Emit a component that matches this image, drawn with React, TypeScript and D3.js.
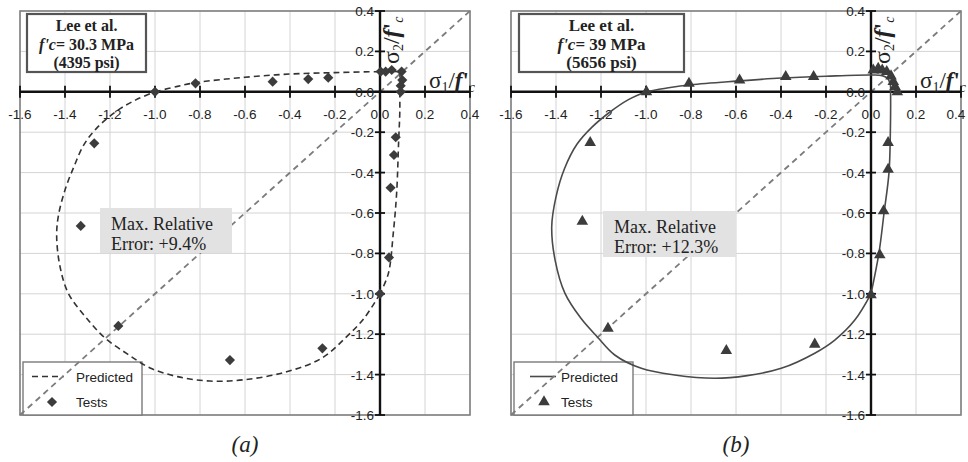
import React from 'react';
import * as d3 from 'd3';

// ---- shared axis values ----
const X_TICKS = [-1.6, -1.4, -1.2, -1.0, -0.8, -0.6, -0.4, -0.2, 0.0, 0.2, 0.4];
const Y_TICKS = [0.4, 0.2, 0.0, -0.2, -0.4, -0.6, -0.8, -1.0, -1.2, -1.4, -1.6];
const DOMAIN: [number, number] = [-1.6, 0.4];
const EQUAL_STRESS_LINE: [number, number][] = [[-1.6, -1.6], [0.4, 0.4]];

// ---- panel (a): f'c = 30.3 MPa ----
const testsA_s1 = [-1.0, -0.82, -0.477, -0.319, -0.23, 0.003, 0.025, 0.052, 0.096, 0.099, 0.092, 0.092,
  -1.27, 0.07, 0.062, 0.047, -1.33, 0.04, 0.0, -1.163, -0.667, -0.256];
const testsA_s2 = [0.0, 0.042, 0.05, 0.063, 0.07, 0.1, 0.1, 0.108, 0.1, 0.058, 0.03, 0.0,
  -0.255, -0.225, -0.313, -0.475, -0.664, -0.82, -1.0, -1.159, -1.328, -1.27];
const predA_tension: [number, number][] = [
  [-1.0, 0.0], [-0.9, 0.027], [-0.82, 0.045], [-0.6, 0.072], [-0.4, 0.088], [-0.2, 0.095], [0.0, 0.1], [0.09, 0.1],
];
const predA_right: [number, number][] = [
  [0.09, 0.1], [0.088, 0.05], [0.088, -0.1], [0.083, -0.24], [0.074, -0.5], [0.059, -0.7], [0.037, -0.9], [0.0, -1.0],
];
const predA_compression: [number, number][] = [
  [0.0, -1.0], [-0.07, -1.12], [-0.148, -1.212], [-0.258, -1.318], [-0.415, -1.386], [-0.6, -1.425], [-0.756, -1.432],
  [-0.9, -1.41], [-1.022, -1.367], [-1.12, -1.3], [-1.222, -1.219], [-1.304, -1.121], [-1.385, -0.998],
  [-1.422, -0.866], [-1.437, -0.717], [-1.43, -0.618], [-1.4, -0.486], [-1.36, -0.37], [-1.315, -0.26],
  [-1.255, -0.175], [-1.17, -0.095], [-1.085, -0.04], [-1.0, 0.0],
];

// ---- panel (b): f'c = 39 MPa ----
const testsB_s1 = [-0.998, -0.809, -0.584, -0.379, -0.255, 0.01, 0.032, 0.05, 0.07, 0.089, 0.099, 0.107, 0.117,
  -1.248, 0.076, 0.076, 0.056, 0.039, -1.283, 0.0, -1.169, -0.643, -0.25];
const testsB_s2 = [0.0, 0.042, 0.058, 0.075, 0.075, 0.107, 0.116, 0.107, 0.1, 0.078, 0.05, 0.025, 0.0,
  -0.252, -0.252, -0.384, -0.59, -0.808, -0.642, -1.006, -1.171, -1.282, -1.25];
const predB_tension: [number, number][] = [
  [-1.0, 0.0], [-0.9, 0.02], [-0.8, 0.035], [-0.6, 0.053], [-0.4, 0.068], [-0.2, 0.077], [0.0, 0.083],
  [0.05, 0.08], [0.075, 0.065], [0.086, 0.035], [0.087, 0.0],
  [0.086, -0.2], [0.08, -0.4], [0.058, -0.6], [0.035, -0.8], [0.0, -1.0],
];
const predB_compression: [number, number][] = [
  [0.0, -1.0], [-0.072, -1.13], [-0.161, -1.229], [-0.25, -1.294], [-0.399, -1.369], [-0.55, -1.405],
  [-0.695, -1.418], [-0.873, -1.402], [-1.021, -1.369], [-1.139, -1.303], [-1.215, -1.215], [-1.29, -1.12],
  [-1.36, -0.998], [-1.404, -0.833], [-1.419, -0.668], [-1.4, -0.52], [-1.362, -0.38], [-1.307, -0.26],
  [-1.24, -0.175], [-1.16, -0.1], [-1.08, -0.04], [-1.0, 0.0],
];

const SERIF = '"Liberation Serif", "Times New Roman", serif';
const SANS = '"Liberation Sans", Arial, sans-serif';

type PanelProps = {
  left: number;
  right: number;
  top: number;
  bottom: number;
  s1: number[];
  s2: number[];
  curves: [number, number][][];
  dashed: boolean;
  marker: 'diamond' | 'triangle';
  fc: string;
  psi: string;
  error: string;
  caption: string;
  infoBox: { dx: number; w: number; fs: number };
  errBox: { dx: number; y: number; w: number; h: number };
  legendBox: { dx: number; w: number; lineX0: number; lineX1: number; markX: number; textX: number };
};

const fmt = (t: number) => d3.format('.1f')(t).replace('−', '-');

function StressTitle({ n }: { n: string }) {
  return (
    <>
      σ<tspan dy={4} fontSize={14}>{n}</tspan>
      <tspan dy={-4}>/</tspan>
      <tspan fontStyle="italic" fontWeight="bold">f</tspan>
      <tspan fontWeight="bold">'</tspan>
      <tspan dy={4} fontSize={14} fontStyle="italic">c</tspan>
    </>
  );
}

function Panel(p: PanelProps) {
  const x = d3.scaleLinear().domain(DOMAIN).range([p.left, p.right]);
  const y = d3.scaleLinear().domain([DOMAIN[1], DOMAIN[0]]).range([p.top, p.bottom]);
  const line = d3.line<[number, number]>().x((d) => x(d[0])).y((d) => y(d[1]));
  const smooth = d3.line<[number, number]>().x((d) => x(d[0])).y((d) => y(d[1])).curve(d3.curveCatmullRom.alpha(0.5));
  const sym = p.marker === 'diamond'
    ? d3.symbol().type(d3.symbolDiamond2).size(66)()
    : d3.symbol().type(d3.symbolTriangle).size(58)();
  const curveColor = p.dashed ? '#333' : '#4a4a4a';
  const x0 = x(0);
  const y0 = y(0);
  const ib = p.infoBox;
  const ibx = p.left + ib.dx;
  const eb = p.errBox;
  const lb = p.legendBox;
  const lx = p.left + lb.dx;
  const legendTop = 362;

  return (
    <g>
      {/* grid */}
      {X_TICKS.map((t) => (
        <line key={'gx' + t} x1={x(t)} x2={x(t)} y1={p.top} y2={p.bottom} stroke="#d4d4d4" strokeWidth={1} />
      ))}
      {Y_TICKS.map((t) => (
        <line key={'gy' + t} x1={p.left} x2={p.right} y1={y(t)} y2={y(t)} stroke="#d4d4d4" strokeWidth={1} />
      ))}
      {/* plot frame */}
      <rect x={p.left} y={p.top} width={p.right - p.left} height={p.bottom - p.top} fill="none" stroke="#808080" strokeWidth={1.6} />

      {/* legend */}
      <rect x={lx} y={legendTop} width={lb.w} height={p.bottom - legendTop} fill="#fff" stroke="#7a7a7a" strokeWidth={1.4} />
      <line x1={p.left + lb.lineX0} x2={p.left + lb.lineX1} y1={376.5} y2={376.5} stroke={curveColor} strokeWidth={1.6}
        strokeDasharray={p.dashed ? '6,4' : undefined} />
      <text x={p.left + lb.textX} y={381.5} fontFamily={SANS} fontSize={13.5} fill="#222">Predicted</text>
      <path d={sym!} transform={`translate(${p.left + lb.markX},${402})`} fill="#3c3c3c" />
      <text x={p.left + lb.textX} y={407} fontFamily={SANS} fontSize={13.5} fill="#222">Tests</text>

      {/* equal biaxial stress line */}
      <path d={line(EQUAL_STRESS_LINE)!} fill="none" stroke="#7c7c7c" strokeWidth={1.8} strokeDasharray="6,4.5" />

      {/* axes */}
      <line x1={p.left} x2={p.right} y1={y0} y2={y0} stroke="#111" strokeWidth={2.4} />
      <line x1={x0} x2={x0} y1={p.top} y2={p.bottom} stroke="#111" strokeWidth={2.4} />
      {X_TICKS.map((t) => (
        <g key={'tx' + t}>
          <line x1={x(t)} x2={x(t)} y1={y0 - 6} y2={y0 + 6} stroke="#111" strokeWidth={1.8} />
          <text x={Math.min(x(t), 956)} y={119} textAnchor="middle" fontFamily={SANS} fontSize={13.5} fill="#222">
            {fmt(t)}
          </text>
        </g>
      ))}
      {Y_TICKS.map((t) => (
        <g key={'ty' + t}>
          <line x1={x0 - 5} x2={x0 + 5} y1={y(t)} y2={y(t)} stroke="#111" strokeWidth={1.8} />
          <text x={x0 - 6} y={y(t) + 5} textAnchor="end" fontFamily={SANS} fontSize={13.5} fill="#222">
            {fmt(t)}
          </text>
        </g>
      ))}

      {/* axis titles */}
      <text x={x0 + 49} y={88} fontFamily={SERIF} fontSize={23} fill="#222">
        <StressTitle n="1" />
      </text>
      <text transform={`translate(${x0 + 19},${64}) rotate(-90)`} fontFamily={SERIF} fontSize={24} fill="#222">
        <StressTitle n="2" />
      </text>

      {/* predicted envelope */}
      {p.curves.map((c, i) => (
        <path key={'c' + i} d={smooth(c)!} fill="none" stroke={curveColor} strokeWidth={1.6}
          strokeDasharray={p.dashed ? '6,4' : undefined} />
      ))}

      {/* tests */}
      {p.s1.map((v, i) => (
        <path key={'m' + i} d={sym!} transform={`translate(${x(v)},${y(p.s2[i])})`} fill="#3c3c3c" />
      ))}

      {/* info box */}
      <rect x={ibx} y={14} width={ib.w} height={58} fill="#fff" stroke="#555" strokeWidth={2.2} />
      <text x={ibx + ib.w / 2} y={31} textAnchor="middle" fontFamily={SERIF} fontSize={ib.fs} fontWeight="bold" fill="#222">Lee et al.</text>
      <text x={ibx + ib.w / 2} y={50} textAnchor="middle" fontFamily={SERIF} fontSize={ib.fs} fontWeight="bold" fill="#222">
        <tspan fontStyle="italic">f'c</tspan>= {p.fc} MPa
      </text>
      <text x={ibx + ib.w / 2} y={68} textAnchor="middle" fontFamily={SERIF} fontSize={ib.fs} fontWeight="bold" fill="#222">({p.psi} psi)</text>

      {/* error note */}
      <rect x={p.left + eb.dx} y={eb.y} width={eb.w} height={eb.h} fill="#e2e2e2" />
      <text x={p.left + eb.dx + 11} y={eb.y + 22} fontFamily={SERIF} fontSize={18} fill="#222">Max. Relative</text>
      <text x={p.left + eb.dx + 11} y={eb.y + 42} fontFamily={SERIF} fontSize={18} fill="#222">Error: {p.error}</text>

      {/* caption */}
      <text x={(p.left + p.right) / 2} y={452} textAnchor="middle" fontFamily={SERIF} fontSize={23} fontStyle="italic" fill="#222">
        {p.caption}
      </text>
    </g>
  );
}

export default function App() {
  return (
    <svg width={968} height={462} style={{ position: 'absolute', left: 0, top: 0, background: '#fff' }}>
      <rect width={968} height={462} fill="#fff" />
      <Panel
        left={20} right={470} top={11} bottom={415}
        s1={testsA_s1} s2={testsA_s2}
        curves={[predA_tension, predA_right, predA_compression]}
        dashed marker="diamond"
        fc="30.3" psi="4395" error="+9.4%" caption="(a)"
        infoBox={{ dx: 7, w: 119, fs: 16 }}
        errBox={{ dx: 80, y: 208, w: 132, h: 45 }}
        legendBox={{ dx: 3, w: 119, lineX0: 12, lineX1: 44, markX: 32, textX: 56 }}
      />
      <Panel
        left={511} right={961} top={11} bottom={415}
        s1={testsB_s1} s2={testsB_s2}
        curves={[predB_tension, predB_compression]}
        dashed={false} marker="triangle"
        fc="39" psi="5656" error="+12.3%" caption="(b)"
        infoBox={{ dx: 8, w: 165, fs: 17 }}
        errBox={{ dx: 92, y: 211, w: 133, h: 46 }}
        legendBox={{ dx: 3, w: 119, lineX0: 19, lineX1: 45, markX: 33, textX: 50 }}
      />
    </svg>
  );
}
